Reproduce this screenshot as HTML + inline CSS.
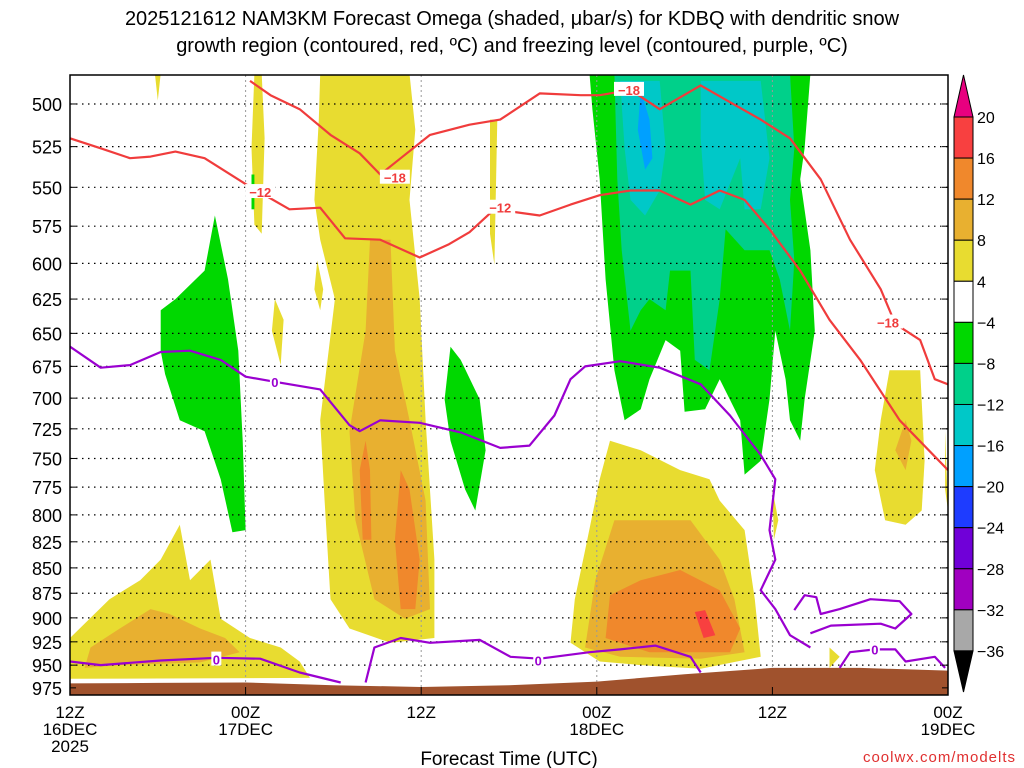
<!DOCTYPE html>
<html><head><meta charset="utf-8"><style>
body{margin:0;background:#fff;}
svg{display:block;font-family:"Liberation Sans",sans-serif;}
</style></head><body>
<svg id="chart" width="1024" height="768" xmlns="http://www.w3.org/2000/svg">
<text x="512" y="25" text-anchor="middle" font-size="20">2025121612 NAM3KM Forecast Omega (shaded, μbar/s) for KDBQ with dendritic snow</text>
<text x="512" y="52" text-anchor="middle" font-size="20">growth region (contoured, red, ºC) and freezing level (contoured, purple, ºC)</text>
<g id="plot"></g>
<g id="axes"></g>
<g id="cbar"></g>
<text x="509" y="765" text-anchor="middle" font-size="19">Forecast Time (UTC)</text>
<text x="1016" y="762" text-anchor="end" font-size="15" fill="#e03030" letter-spacing="1">coolwx.com/modelts</text>
</svg>
<script>
// axes ranges (hours from 12Z 16DEC, pressure hPa, log-pressure axis)
const hourMin = 0, hourMax = 60, pTop = 483.7, pBot = 983;
const pressureTicks = [500,525,550,575,600,625,650,675,700,725,750,775,800,825,850,875,900,925,950,975];
const timeTicks = [0,12,24,36,48,60];
const timeLabels = [["12Z","16DEC","2025"],["00Z","17DEC"],["12Z"],["00Z","18DEC"],["12Z"],["00Z","19DEC"]];
const cbarLevels = [20,16,12,8,4,-4,-8,-12,-16,-20,-24,-28,-32,-36];
const cbarColors = ["#f84040","#f0882c","#e8b030","#e8dc30","#ffffff","#00d800","#00d08a","#00c8c8","#00a0ff","#1e3cff","#7000d8","#a000c0","#a8a8a8"];
const C = {y4:"#e8dc30",y8:"#e8b030",y12:"#f0882c",y16:"#f84040",g4:"#00d800",g8:"#00d08a",g12:"#00c8c8",g16:"#00a0ff"};

// shaded omega regions: [[hour,p],...]
const shadeYellow1 = [[17.1,483],[23.2,483],[23.6,515],[23.2,558],[23.9,625],[24.3,718],[24.9,842],[24.9,921],[21.9,926],[19.1,911],[17.8,881],[17.4,787],[17.1,718],[18.1,625],[17.1,584],[16.7,558],[17.0,509]];
const shadeOrange1 = [[20.5,584],[21.9,584],[22.2,663],[23.2,718],[24.3,787],[24.6,891],[22.9,901],[20.8,881],[19.5,805],[19.1,727],[20.2,648]];
const shadeDeep1a = [[20.2,735],[20.5,760],[20.6,823],[20.0,823],[19.8,760]];
const shadeDeep1b = [[22.6,760],[23.2,777],[23.9,842],[23.6,891],[22.6,891],[22.2,823]];
const shadeYellow2 = [[34.2,926],[34.5,881],[35.2,833],[36.2,768],[36.9,735],[39.0,743],[41.7,760],[43.7,768],[44.4,787],[46.1,814],[46.8,881],[47.2,941],[43.1,954],[39.0,950],[36.2,946]];
const shadeOrange2 = [[35.2,931],[35.9,862],[37.2,805],[39.6,805],[42.4,805],[44.4,842],[45.4,881],[46.1,936],[43.1,943],[37.6,941]];
const shadeDeep2 = [[36.6,921],[36.9,877],[39.0,862],[41.7,852],[44.4,872],[45.8,911],[45.1,936],[39.6,936]];
const shadeRed2 = [[42.7,894],[43.4,892],[44.1,918],[43.3,921]];
const shadeYellow3 = [[0,921],[2.7,881],[4.8,862],[6.2,842],[7.5,809],[8.2,862],[9.6,842],[10.3,901],[12.3,921],[14.4,931],[15.7,946],[16.4,964],[0,965]];
const shadeOrange3 = [[1.4,931],[3.4,911],[5.5,891],[6.8,896],[8.9,911],[10.6,921],[11.6,936],[8.9,947],[3.4,950],[1.0,953]];
const shadeGreen1 = [[6.2,633],[7.2,625],[9.2,605],[9.9,568],[10.8,611],[11.5,663],[11.8,735],[12.0,814],[11.1,816],[10.3,768],[9.2,727],[7.5,718],[6.5,681],[6.2,663]];
const shadeGreen2 = [[26.0,660],[26.7,670],[28.0,701],[28.4,743],[27.7,796],[27.0,777],[26.0,735],[25.6,701]];
const shadeGreen3 = [[35.5,483],[50.6,483],[50.2,526],[49.9,545],[50.6,591],[50.9,648],[50.2,701],[49.9,735],[49.2,718],[48.9,685],[48.2,648],[47.8,701],[47.2,752],[46.1,764],[45.8,718],[44.4,685],[43.4,709],[42.0,711],[41.7,663],[40.7,655],[39.6,685],[39.0,709],[37.9,718],[37.2,678],[36.6,611],[36.2,545],[35.7,503]];
const shadeTeal1 = [[37.2,483],[49.2,483],[49.5,526],[49.2,558],[49.5,598],[49.2,648],[48.5,611],[47.8,591],[46.1,591],[44.8,577],[44.4,625],[43.7,678],[42.7,670],[42.4,605],[41.0,605],[40.7,633],[39.6,625],[39.0,633],[38.3,648],[37.7,591],[37.4,545]];
const shadeTeal2a = [[37.6,487],[40.3,487],[40.7,526],[40.3,552],[39.3,568],[38.3,558],[37.9,526]];
const shadeTeal2b = [[43.1,487],[47.2,487],[47.8,532],[47.2,564],[46.1,564],[45.8,532],[44.4,564],[43.4,558],[43.1,520]];
const shadeBlue = [[39.0,492],[39.6,509],[39.8,532],[39.3,539],[38.8,515]];
const shadeYellow4 = [[56.0,678],[58.1,678],[58.4,752],[58.2,796],[57.1,809],[55.7,805],[55.0,760],[55.4,718]];
const shadeOrange4 = [[57.1,718],[57.5,735],[57.1,760],[56.4,743]];
const shadeSlivers = [
 [[12.6,483],[13.1,483],[13.3,520],[13.1,580],[12.6,574],[12.4,526]],
 [[5.8,483],[6.2,483],[6.0,498]],
 [[28.7,509],[29.2,509],[29.0,601],[28.7,580]],
 [[14.0,625],[14.6,640],[14.4,674],[13.8,648]],
 [[16.9,598],[17.3,618],[17.1,633],[16.7,618]],
 [[48.0,777],[48.4,805],[48.1,823]],
 [[51.9,931],[52.6,941],[51.9,953]],
 [[59.8,727],[60,796],[59.8,777]]
];
const shadeGreenSmall = [[12.4,542],[12.6,542],[12.6,564],[12.4,564]];

// contour lines
const redMinus12 = [[0,520],[2.1,526],[4.1,532],[5.5,531],[7.2,528],[9.2,532],[12.0,548],[15.0,564],[17.1,563],[18.8,583],[21.2,584],[23.9,596],[25.9,587],[27.3,579],[29.0,564],[32.1,568],[34.2,561],[36.2,555],[38.3,552],[40.3,552],[42.4,561],[44.4,552],[46.1,558],[47.8,577],[49.9,605],[51.9,640],[54.0,670],[56.7,718],[60,760]];
const redMinus18 = [[12.3,487],[13.7,495],[15.7,503],[17.8,518],[19.8,529],[21.2,542],[22.6,532],[24.6,518],[27.3,512],[29.4,509],[32.1,494],[34.9,495],[36.2,495],[38.3,492],[40.3,503],[43.1,489.5],[45.1,499],[47.2,509],[49.2,520],[51.3,545],[53.3,584],[55.4,618],[56.4,643],[58.1,655],[59.1,685],[60,689]];
const purpleUpper = [[0,660],[2.1,676],[4.1,674],[6.2,664],[8.2,663],[10.3,670],[12.0,683],[14.0,687],[17.1,693],[19.1,722],[19.8,727],[21.2,718],[23.9,720],[26.7,728],[29.4,741],[31.4,739],[33.1,714],[34.2,685],[35.2,675],[37.6,671],[40.3,676],[43.1,689],[45.1,714],[47.2,747],[48.2,768],[47.8,814],[48.2,842],[47.2,872],[48.2,891],[49.2,918],[50.6,931]];
const purpleLower1 = [[0,946],[2.1,950],[6.2,945],[10.0,942],[13.0,943],[15.7,958],[18.5,969]];
const purpleLower2 = [[20.2,969],[20.8,931],[22.6,921],[24.6,926],[28.0,923],[30.1,941],[32.1,943],[35.5,936],[37.6,933],[40.0,929],[42.4,941],[43.1,958]];
const purpleLoops = [
 [[49.5,892],[50.2,877],[51.0,879],[51.3,896],[52.6,891],[54.7,881],[56.7,883],[57.5,896],[56.4,911],[55.4,906],[52.0,908],[50.6,916]],
 [[52.6,953],[53.3,936],[55.0,933],[56.4,933],[57.1,946],[59.1,941],[59.8,953]]
];
const groundSurface = [[0,970],[6,969.5],[12,969],[18,972],[24,974],[30,972],[36,968],[42,960],[48,953],[54,953],[60,956]];
const labelsRed = [[13.0,"-12",553],[29.4,"-12",563],[22.2,"-18",544],[38.2,"-18",492],[55.9,"-18",642]];
const labelsPurple = [[14.0,"0",687],[10.0,"0",944],[32.0,"0",945],[55.0,"0",933]];

const NS = "http://www.w3.org/2000/svg";
const X0 = 70, X1 = 948, Y0 = 75, Y1 = 695;
function xS(h){return X0 + (h-hourMin)/(hourMax-hourMin)*(X1-X0);}
function yS(p){return Y0 + Math.log(p/pTop)/Math.log(pBot/pTop)*(Y1-Y0);}
function mk(tag, attrs, parent){const e=document.createElementNS(NS,tag);for(const k in attrs)e.setAttribute(k,attrs[k]);parent.appendChild(e);return e;}
function pts(arr){return arr.map(d=>xS(d[0]).toFixed(1)+","+yS(d[1]).toFixed(1)).join(" ");}
const plot = document.getElementById("plot");
const axes = document.getElementById("axes");
const cbar = document.getElementById("cbar");

mk("defs",{},plot).innerHTML='<clipPath id="clip"><rect x="70" y="75" width="878" height="620"/></clipPath>';
const g = mk("g",{"clip-path":"url(#clip)"},plot);

function poly(arr, fill, name){
  const e = mk("polygon",{points:pts(arr),fill:fill},g);
  
  
}
poly(shadeYellow1,C.y4,"omega-shade-4");
poly(shadeOrange1,C.y8,"omega-shade-8");
poly(shadeDeep1a,C.y12,"omega-shade-12");
poly(shadeDeep1b,C.y12,"omega-shade-12");
poly(shadeYellow2,C.y4,"omega-shade-4");
poly(shadeOrange2,C.y8,"omega-shade-8");
poly(shadeDeep2,C.y12,"omega-shade-12");
poly(shadeRed2,C.y16,"omega-shade-16");
poly(shadeYellow3,C.y4,"omega-shade-4");
poly(shadeOrange3,C.y8,"omega-shade-8");
poly(shadeGreen1,C.g4,"omega-shade-neg4");
poly(shadeGreen2,C.g4,"omega-shade-neg4");
poly(shadeGreen3,C.g4,"omega-shade-neg4");
poly(shadeTeal1,C.g8,"omega-shade-neg8");
poly(shadeTeal2a,C.g12,"omega-shade-neg12");
poly(shadeTeal2b,C.g12,"omega-shade-neg12");
poly(shadeBlue,C.g16,"omega-shade-neg16");
poly(shadeYellow4,C.y4,"omega-shade-4");
poly(shadeOrange4,C.y8,"omega-shade-8");
shadeSlivers.forEach(s=>poly(s,C.y4,"omega-shade-4"));
poly(shadeGreenSmall,C.g4,"omega-shade-neg4");

// grid
pressureTicks.forEach(p=>{
  const l = mk("line",{x1:X0,x2:X1,y1:yS(p),y2:yS(p),stroke:"#000","stroke-width":1.2,"stroke-dasharray":"1.5,4.5"},g);
  
  
});
timeTicks.slice(1,-1).forEach(t=>{
  const l = mk("line",{x1:xS(t),x2:xS(t),y1:Y0,y2:Y1,stroke:"#999","stroke-width":1,"stroke-dasharray":"2,3"},g);
  
  
});

// ground
const gnd = groundSurface.concat([[60,pBot+5],[0,pBot+5]]);
poly(gnd,"#a0522d","ground-surface");

function line(arr,color,name){
  const e = mk("polyline",{points:pts(arr),fill:"none",stroke:color,"stroke-width":2.2,"stroke-linejoin":"round"},g);
  
  
}
line(redMinus12,"#f03c3c","dgz-contour-minus12");
line(redMinus18,"#f03c3c","dgz-contour-minus18");
line(purpleUpper,"#9a00d0","freezing-level-upper");
line(purpleLower1,"#9a00d0","freezing-level-lower-left");
line(purpleLower2,"#9a00d0","freezing-level-lower-mid");
purpleLoops.forEach(l=>line(l,"#9a00d0","freezing-level-loop"));

function clabel(d,color,name){
  const r = mk("rect",{x:xS(d[0])-(d[1].length*5),y:yS(d[2])-8,width:d[1].length*10,height:14,fill:"#fff"},g);
  
  
  const t = mk("text",{x:xS(d[0]),y:yS(d[2])+5,"text-anchor":"middle","font-size":13,"font-weight":"bold",fill:color},g);
  t.textContent = d[1].replace("-","−");
  
  
}
labelsRed.forEach(d=>clabel(d,"#f03c3c","dgz-contour-label"));
labelsPurple.forEach(d=>clabel(d,"#9a00d0","freezing-contour-label"));

// frame & ticks
const fr = mk("rect",{x:X0,y:Y0,width:X1-X0,height:Y1-Y0,fill:"none",stroke:"#000","stroke-width":1.5},axes);


pressureTicks.forEach(p=>{
  const t = mk("text",{x:62,y:yS(p)+7,"text-anchor":"end","font-size":18},axes);
  t.textContent = p;
  
  
  mk("line",{x1:X0,x2:X0+6,y1:yS(p),y2:yS(p),stroke:"#000"},axes);
  mk("line",{x1:X1,x2:X1-6,y1:yS(p),y2:yS(p),stroke:"#000"},axes);
});
timeTicks.forEach((tt,i)=>{
  mk("line",{x1:xS(tt),x2:xS(tt),y1:Y1,y2:Y1-8,stroke:"#000"},axes);
  timeLabels[i].forEach((s,j)=>{
    const t = mk("text",{x:xS(tt),y:Y1+23+j*17,"text-anchor":"middle","font-size":17},axes);
    t.textContent = s;
    
    
  });
});

// colorbar
const CB0 = 117, CBstep = 41.07, CBx = 954, CBw = 19;
const tri = mk("polygon",{points:`${CBx},${CB0} ${CBx+CBw},${CB0} ${CBx+CBw/2},75`,fill:"#e8007f",stroke:"#000"},cbar);


cbarColors.forEach((c,i)=>{
  const r = mk("rect",{x:CBx,y:CB0+i*CBstep,width:CBw,height:CBstep,fill:c,stroke:"#000"},cbar);
  
  
});
const yb = CB0+cbarColors.length*CBstep;
const tri2 = mk("polygon",{points:`${CBx},${yb} ${CBx+CBw},${yb} ${CBx+CBw/2},692`,fill:"#000",stroke:"#000"},cbar);


cbarLevels.forEach((v,i)=>{
  const t = mk("text",{x:CBx+CBw+4,y:CB0+i*CBstep+6,"font-size":16},cbar);
  t.textContent = v<0 ? "−"+(-v) : v;
  
  
});
</script>
</body></html>
